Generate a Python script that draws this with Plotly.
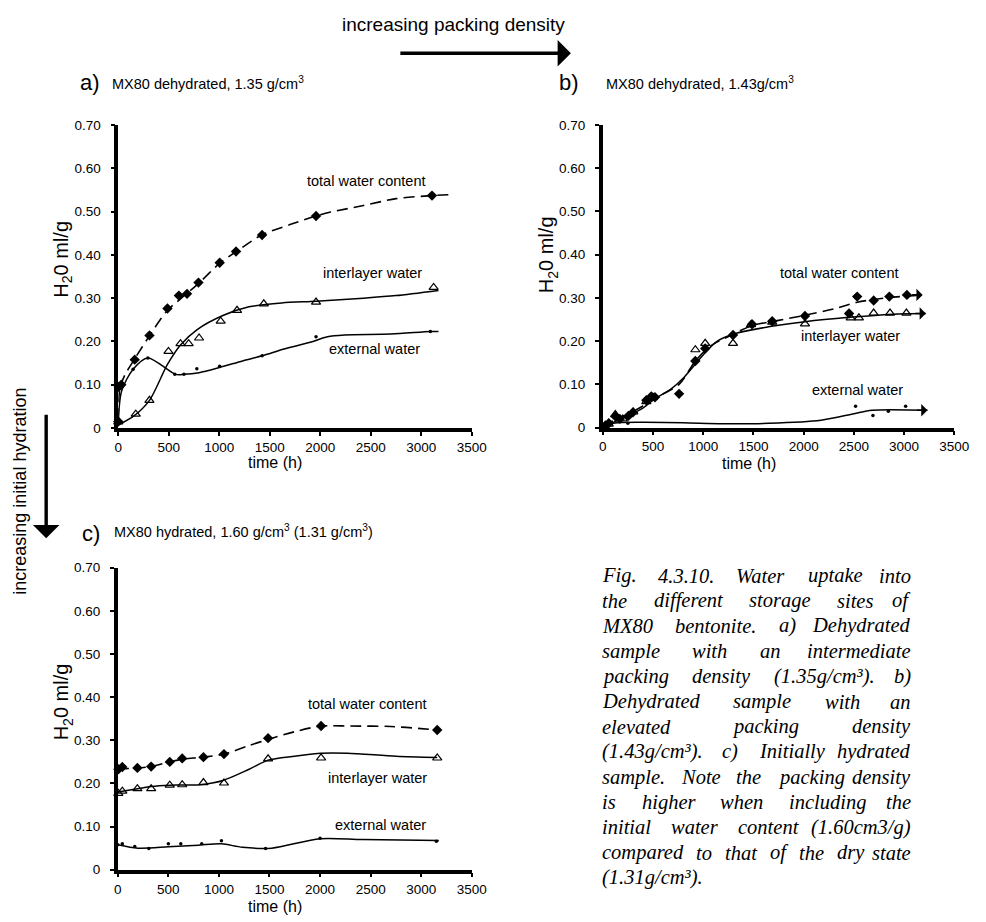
import plotly.graph_objects as go

W, H = 986, 922

# ---------------- data (time in h, H2O in ml/g) ----------------
# a) MX80 dehydrated 1.35 g/cm3
a_total_t = [0, 5, 30, 163, 309, 487, 600, 681, 794, 1004, 1166, 1424, 1958, 3106]
a_total_v = [0.015, 0.095, 0.10, 0.158, 0.214, 0.276, 0.306, 0.31, 0.336, 0.382, 0.408, 0.446, 0.49, 0.537]
a_total_fit_t = [0, 15, 60, 150, 300, 480, 650, 800, 1000, 1170, 1420, 1700, 1958, 2103, 2427, 2750, 3106, 3283]
a_total_fit_v = [0.02, 0.09, 0.12, 0.155, 0.21, 0.27, 0.305, 0.335, 0.38, 0.408, 0.446, 0.47, 0.49, 0.499, 0.514, 0.53, 0.537, 0.539]
a_inter_t = [0, 173, 309, 497, 616, 697, 800, 1014, 1176, 1441, 1958, 3122]
a_inter_v = [0.014, 0.032, 0.064, 0.177, 0.195, 0.195, 0.208, 0.247, 0.272, 0.287, 0.291, 0.325]
a_inter_fit_t = [0, 155, 309, 487, 616, 778, 1036, 1295, 1618, 1958, 2427, 2750, 3170]
a_inter_fit_v = [0.007, 0.028, 0.064, 0.147, 0.192, 0.227, 0.26, 0.28, 0.289, 0.293, 0.30, 0.306, 0.318]
a_ext_t = [0, 147, 293, 560, 650, 778, 1004, 1424, 1958, 3090]
a_ext_v = [0.015, 0.136, 0.162, 0.124, 0.124, 0.137, 0.143, 0.167, 0.211, 0.223]
a_ext_fit_t = [0, 34, 147, 293, 567, 650, 800, 1004, 1230, 1424, 1651, 1900, 2071, 2240, 2700, 3090, 3170]
a_ext_fit_v = [0.014, 0.086, 0.136, 0.162, 0.124, 0.124, 0.128, 0.14, 0.155, 0.167, 0.183, 0.198, 0.211, 0.215, 0.217, 0.223, 0.223]

# b) MX80 dehydrated 1.43 g/cm3
b_total_t = [27, 60, 125, 170, 255, 300, 434, 483, 520, 760, 922, 1020, 1297, 1486, 1687, 2013, 2452, 2533, 2697, 2853, 3028]
b_total_v = [0.005, 0.01, 0.026, 0.02, 0.027, 0.035, 0.063, 0.072, 0.07, 0.078, 0.154, 0.183, 0.214, 0.239, 0.246, 0.258, 0.264, 0.303, 0.294, 0.303, 0.307]
b_total_fit_t = [0, 200, 400, 520, 760, 922, 1069, 1297, 1486, 1750, 2013, 2306, 2533, 2828, 3185]
b_total_fit_v = [0.005, 0.025, 0.05, 0.068, 0.10, 0.154, 0.188, 0.216, 0.236, 0.248, 0.26, 0.275, 0.29, 0.30, 0.307]
b_inter_t = [12, 60, 125, 200, 304, 434, 500, 922, 1020, 1297, 1476, 1687, 2013, 2468, 2550, 2697, 2860, 3023]
b_inter_v = [0.0, 0.008, 0.03, 0.02, 0.036, 0.06, 0.07, 0.18, 0.195, 0.195, 0.238, 0.244, 0.24, 0.254, 0.254, 0.265, 0.265, 0.265]
b_inter_fit_t = [0, 200, 400, 516, 678, 808, 1004, 1134, 1330, 1650, 2013, 2452, 2940, 3217]
b_inter_fit_v = [0.0, 0.022, 0.045, 0.066, 0.089, 0.116, 0.169, 0.199, 0.218, 0.233, 0.245, 0.255, 0.263, 0.264]
b_ext_t = [30, 250, 2517, 2690, 2843, 3015]
b_ext_v = [0.005, 0.01, 0.049, 0.028, 0.038, 0.049]
b_ext_fit_t = [0, 150, 400, 800, 1200, 1655, 2173, 2501, 2680, 3233]
b_ext_fit_v = [0.005, 0.011, 0.012, 0.011, 0.009, 0.01, 0.017, 0.032, 0.04, 0.04]

# c) MX80 hydrated 1.60 g/cm3 (1.31 g/cm3)
c_t = [6, 45, 194, 330, 514, 637, 847, 1050, 1486, 2010, 3158]
c_total_v = [0.233, 0.238, 0.236, 0.239, 0.25, 0.258, 0.261, 0.268, 0.305, 0.333, 0.324]
c_total_fit_t = [0, 200, 330, 514, 637, 847, 1050, 1300, 1486, 1750, 2010, 2300, 2700, 3158]
c_total_fit_v = [0.233, 0.236, 0.239, 0.25, 0.256, 0.261, 0.268, 0.288, 0.302, 0.32, 0.333, 0.333, 0.332, 0.324]
c_inter_v = [0.177, 0.182, 0.188, 0.188, 0.196, 0.197, 0.202, 0.201, 0.257, 0.259, 0.259]
c_inter_fit_t = [0, 150, 330, 514, 810, 1040, 1299, 1486, 1750, 2010, 2270, 2753, 3158]
c_inter_fit_v = [0.18, 0.186, 0.193, 0.196, 0.197, 0.207, 0.233, 0.254, 0.263, 0.27, 0.27, 0.263, 0.26]
c_ext_t = [0, 45, 168, 307, 500, 623, 830, 1025, 1461, 2000, 3150]
c_ext_v = [0.058, 0.06, 0.054, 0.049, 0.06, 0.06, 0.06, 0.067, 0.049, 0.073, 0.066]
c_ext_fit_t = [0, 200, 500, 800, 1025, 1232, 1522, 2000, 2420, 3174]
c_ext_fit_v = [0.058, 0.05, 0.053, 0.057, 0.06, 0.052, 0.05, 0.072, 0.07, 0.068]

y_ticks = [0, 0.1, 0.2, 0.3, 0.4, 0.5, 0.6, 0.7]
y_ticktext = ["0", "0.10", "0.20", "0.30", "0.40", "0.50", "0.60", "0.70"]
x_ticks = [0, 500, 1000, 1500, 2000, 2500, 3000, 3500]

panel_titles = ["MX80 dehydrated, 1.35 g/cm<sup>3</sup>",
                "MX80 dehydrated, 1.43g/cm<sup>3</sup>",
                "MX80 hydrated, 1.60 g/cm<sup>3</sup> (1.31 g/cm<sup>3</sup>)"]
panel_letters = ["a)", "b)", "c)"]
series_labels = ["total water content", "interlayer water", "external water"]

caption_lines = [
    "Fig. 4.3.10. Water uptake into",
    "the different storage sites of",
    "MX80 bentonite. a) Dehydrated",
    "sample with an intermediate",
    "packing density (1.35g/cm³). b)",
    "Dehydrated sample with an",
    "elevated packing density",
    "(1.43g/cm³). c) Initially hydrated",
    "sample. Note the packing density",
    "is higher when including the",
    "initial water content (1.60cm3/g)",
    "compared to that of the dry state",
    "(1.31g/cm³).",
]

SANS = "Liberation Sans, Arial, sans-serif"
SERIF = "Liberation Serif, Times New Roman, serif"


def P(px):
    return px / W


def Q(py):
    return 1 - py / H


fig = go.Figure()

panels = [
    ("x", "y", a_total_t, a_total_v, a_total_fit_t, a_total_fit_v,
     a_inter_t, a_inter_v, a_inter_fit_t, a_inter_fit_v,
     a_ext_t, a_ext_v, a_ext_fit_t, a_ext_fit_v),
    ("x2", "y2", b_total_t, b_total_v, b_total_fit_t, b_total_fit_v,
     b_inter_t, b_inter_v, b_inter_fit_t, b_inter_fit_v,
     b_ext_t, b_ext_v, b_ext_fit_t, b_ext_fit_v),
    ("x3", "y3", c_t, c_total_v, c_total_fit_t, c_total_fit_v,
     c_t, c_inter_v, c_inter_fit_t, c_inter_fit_v,
     c_ext_t, c_ext_v, c_ext_fit_t, c_ext_fit_v),
]

for (xa, ya, tt, tv, tft, tfv, it, iv, ift, ifv, et, ev, eft, efv) in panels:
    common = dict(xaxis=xa, yaxis=ya, hoverinfo="skip", cliponaxis=False, showlegend=False)
    fig.add_trace(go.Scatter(x=tft, y=tfv, mode="lines",
                             line=dict(color="black", width=1.6, dash="11px,6px", shape="spline", smoothing=0.8),
                             **common))
    fig.add_trace(go.Scatter(x=ift, y=ifv, mode="lines",
                             line=dict(color="black", width=1.5, shape="spline", smoothing=0.8), **common))
    fig.add_trace(go.Scatter(x=eft, y=efv, mode="lines",
                             line=dict(color="black", width=1.5, shape="spline", smoothing=0.8), **common))
    fig.add_trace(go.Scatter(x=tt, y=tv, mode="markers",
                             marker=dict(symbol="diamond", size=8, color="black"), **common))
    fig.add_trace(go.Scatter(x=it, y=iv, mode="markers",
                             marker=dict(symbol="triangle-up-open", size=8, color="black",
                                         line=dict(width=1.2, color="black")), **common))
    fig.add_trace(go.Scatter(x=et, y=ev, mode="markers",
                             marker=dict(symbol="circle", size=3.5, color="black"), **common))

# axes
domains = {
    "a": ([116.5, 477], [428, 120]),
    "b": ([610.5, 969], [427.5, 120]),
    "c": ([116, 477], [877, 570]),
}
axis_common = dict(showline=True, linecolor="black", linewidth=3.5, ticks="outside",
                   ticklen=4, tickwidth=1.5, tickcolor="black", showgrid=False,
                   zeroline=False, tickfont=dict(family=SANS, size=13.5, color="black"))
layout_axes = {}
for i, key in enumerate(["a", "b", "c"]):
    (x0, x1), (y0, y1) = domains[key]
    sfx = "" if i == 0 else str(i + 1)
    layout_axes["xaxis" + sfx] = dict(domain=[P(x0), P(x1)], range=[0, 3500], tickvals=x_ticks,
                                      anchor="y" + sfx, **axis_common)
    layout_axes["yaxis" + sfx] = dict(domain=[Q(y0), Q(y1)], range=[0, 0.7], tickvals=y_ticks,
                                      ticktext=y_ticktext, anchor="x" + sfx,
                                      ticklabelstandoff=7, **axis_common)

ann = []


def text(t, px, py, size, xanchor="left", angle=0, family=SANS, yanchor="middle"):
    ann.append(dict(text=t, x=P(px), y=Q(py), xref="paper", yref="paper", showarrow=False,
                    xanchor=xanchor, yanchor=yanchor, textangle=angle,
                    font=dict(family=family, size=size, color="black")))


# panel letters and titles
text(panel_letters[0], 75, 77, 22)
text(panel_titles[0], 108, 77, 14.5)
text(panel_letters[1], 564, 77, 22)
text(panel_titles[1], 612, 77, 14.5)
text(panel_letters[2], 77, 535, 22)
text(panel_titles[2], 110, 533, 14.5)

# axis titles
ytitle = "H<sub>2</sub>0 ml/g"
text(ytitle, 60, 256, 20, xanchor="center", angle=-90)
text(ytitle, 555, 252, 20, xanchor="center", angle=-90)
text(ytitle, 60, 706, 20, xanchor="center", angle=-90)
text("time (h)", 276, 463, 16, xanchor="center")
text("time (h)", 760, 464, 16, xanchor="center")
text("time (h)", 276, 914, 16, xanchor="center")

# series labels
lab_pos = [
    [(307, 177), (323, 270), (329, 348)],
    [(789, 270), (811, 334), (822, 389)],
    [(308, 709), (328, 784), (335, 832)],
]
for pos in lab_pos:
    for lbl, (px, py) in zip(series_labels, pos):
        text(lbl, px, py, 14.5)

# arrows in panel b
for ft, fv in [(b_total_fit_t, b_total_fit_v), (b_inter_fit_t, b_inter_fit_v), (b_ext_fit_t, b_ext_fit_v)]:
    ann.append(dict(x=ft[-1], y=fv[-1], ax=ft[-1] - 120, ay=fv[-1], xref="x2", yref="y2",
                    axref="x2", ayref="y2", text="", showarrow=True, arrowhead=1,
                    arrowsize=1.3, arrowwidth=1.6, arrowcolor="black"))

# direction arrows and their text
text("increasing packing density", 458, 18, 19, xanchor="center")
ann.append(dict(x=P(578), y=Q(47), xref="paper", yref="paper", ax=-172, ay=0, text="",
                showarrow=True, arrowhead=1, arrowsize=1.3, arrowwidth=3.4, arrowcolor="black"))
text("increasing initial hydration", 16, 492, 18, xanchor="center", angle=-90)
ann.append(dict(x=P(43), y=Q(540), xref="paper", yref="paper", ax=0, ay=-125, text="",
                showarrow=True, arrowhead=1, arrowsize=1.3, arrowwidth=3.4, arrowcolor="black"))

# caption, justified word by word (Times italic advance widths / 1000 em)
TI = {" ": 250, ".": 250, "(": 333, ")": 333, "/": 278, "³": 300,
      "0": 500, "1": 500, "2": 500, "3": 500, "4": 500, "5": 500, "6": 500, "7": 500, "8": 500, "9": 500,
      "a": 500, "b": 500, "c": 444, "d": 500, "e": 444, "f": 278, "g": 500, "h": 500, "i": 278,
      "j": 278, "k": 444, "l": 278, "m": 722, "n": 500, "o": 500, "p": 500, "q": 500, "r": 389,
      "s": 389, "t": 278, "u": 500, "v": 444, "w": 667, "x": 444, "y": 444, "z": 389,
      "D": 722, "F": 611, "I": 333, "M": 833, "N": 667, "W": 833, "X": 611}
cap_size = 20.5
cap_left, cap_right = 608, 927
for i, line in enumerate(caption_lines):
    yy = 578 + i * 25.6
    words = line.split(" ")
    widths = [sum(TI.get(ch, 500) for ch in w) / 1000 * cap_size for w in words]
    last = i == len(caption_lines) - 1
    gap = 0.25 * cap_size if last else (cap_right - cap_left - sum(widths)) / (len(words) - 1)
    x = cap_left
    for j, (w, wd) in enumerate(zip(words, widths)):
        if not last and j == len(words) - 1:
            text("<i>" + w + "</i>", cap_right, yy, cap_size, xanchor="right", family=SERIF)
        else:
            text("<i>" + w + "</i>", x, yy, cap_size, xanchor="left", family=SERIF)
        x += wd + gap

fig.update_layout(width=W, height=H, margin=dict(l=0, r=0, t=0, b=0),
                  paper_bgcolor="white", plot_bgcolor="white", showlegend=False,
                  annotations=ann, **layout_axes)

fig.write_html("out.html", config={"displayModeBar": False})
